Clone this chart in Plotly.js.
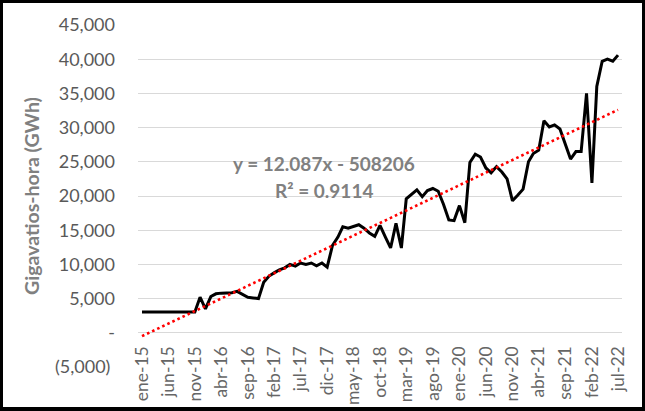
<!DOCTYPE html>
<html><head><meta charset="utf-8">
<script src="https://cdn.plot.ly/plotly-3.0.1.min.js"></script>
<style>
html,body{margin:0;padding:0;background:#fff}
#wrap{position:relative;width:645px;height:411px}
#chart{position:absolute;left:0;top:0;width:645px;height:411px}
#frame{position:absolute;left:0;top:0;width:645px;height:411px;box-sizing:border-box;border:3px solid #000;border-bottom-width:4px;pointer-events:none}
</style>
</head><body><div id="wrap"><div id="chart"></div><div id="frame"></div></div>
<script>
// Monthly series starting ene-2015
const startYear = 2015, startMonth = 1;
const generationGWh = [
  3050,3050,3050,3050,3050,3050,3050,3050,3050,3050,3050,
  5200,3500,5300,5700,5800,5800,5850,6050,5600,5200,
  5100,5000,7400,8300,8800,9200,9500,10000,9750,10200,
  10000,10200,9800,10200,9600,12800,14000,15500,15300,15500,
  15800,15300,14600,14100,15700,14000,12400,16000,12400,19600,
  20200,20900,19900,20800,21100,20700,18800,16500,16400,18600,
  16100,24900,26100,25700,24100,23400,24300,23500,22500,19300,
  20100,21000,25000,26200,26700,31000,30100,30400,29800,27500,
  25400,26500,26500,35000,21900,36000,39700,40000,39700,40600
];
const xTickDates = ['2015-01-01','2015-06-01','2015-11-01','2016-04-01','2016-09-01','2017-02-01','2017-07-01','2017-12-01','2018-05-01','2018-10-01','2019-03-01','2019-08-01','2020-01-01','2020-06-01','2020-11-01','2021-04-01','2021-09-01','2022-02-01','2022-07-01'];
const xTickLabels = ['ene-15','jun-15','nov-15','abr-16','sep-16','feb-17','jul-17','dic-17','may-18','oct-18','mar-19','ago-19','ene-20','jun-20','nov-20','abr-21','sep-21','feb-22','jul-22'];
const yTickValues = [-5000,0,5000,10000,15000,20000,25000,30000,35000,40000,45000];
const yTickLabels = ['(5,000)\u00a0','-','5,000','10,000','15,000','20,000','25,000','30,000','35,000','40,000','45,000'];
const trendSlope = 12.087, trendIntercept = -508206;
const rSquared = 0.9114;
const yAxisTitle = 'Gigavatios-hora (GWh)';

function pad(n){return (n<10?'0':'')+n;}
const months = generationGWh.map((_, i) => {
  const m0 = startMonth - 1 + i;
  const y = startYear + Math.floor(m0 / 12);
  const m = (m0 % 12) + 1;
  return y + '-' + pad(m) + '-01';
});
function excelSerial(d){
  const p = d.split('-').map(Number);
  return (Date.UTC(p[0], p[1]-1, p[2]) - Date.UTC(1899, 11, 30)) / 864e5;
}
const trendX = [months[0], months[months.length-1]];
const trendY = trendX.map(d => trendSlope * excelSerial(d) + trendIntercept);

const FONT = 'Lato, "Open Sans", sans-serif';
const data = [
  {x: months, y: generationGWh, type: 'scatter', mode: 'lines',
   line: {color: '#000000', width: 3}, hoverinfo: 'skip'},
  {x: trendX, y: trendY, type: 'scatter', mode: 'lines',
   line: {color: '#ff0000', width: 2.6, dash: '2.6px,3px'}, hoverinfo: 'skip'}
];
const layout = {
  width: 645, height: 411,
  margin: {l: 138, r: 23, t: 25, b: 44},
  paper_bgcolor: '#ffffff', plot_bgcolor: '#ffffff',
  showlegend: false,
  font: {family: FONT, color: '#595959'},
  xaxis: {
    type: 'date', range: ['2014-12-09', '2022-07-24'],
    anchor: 'free', position: 0.1,
    tickmode: 'array', tickvals: xTickDates, ticktext: xTickLabels,
    tickangle: -90, tickfont: {family: FONT, size: 17.5, color: '#666666'},
    ticklabelstandoff: 9,
    showgrid: false, zeroline: false, showline: false, ticks: ''
  },
  yaxis: {
    range: [-5000, 45000], domain: [0, 1],
    tickmode: 'array', tickvals: yTickValues, ticktext: yTickLabels,
    tickfont: {family: FONT, size: 18, color: '#595959'},
    showgrid: true, gridcolor: '#d9d9d9', gridwidth: 1,
    zeroline: false, showline: false, ticks: '',
    ticklabelstandoff: 22,
    title: {text: yAxisTitle, font: {family: FONT, size: 19.5, color: '#808080', weight: 'bold'}, standoff: 10}
  },
  annotations: [
    {xref: 'paper', yref: 'paper', x: 0.384, y: 0.596, xanchor: 'center', yanchor: 'middle',
     showarrow: false, text: 'y = ' + trendSlope.toFixed(3) + 'x - ' + Math.abs(trendIntercept),
     font: {family: FONT, size: 19, color: '#808080', weight: 'bold'}},
    {xref: 'paper', yref: 'paper', x: 0.384, y: 0.515, xanchor: 'center', yanchor: 'middle',
     showarrow: false, text: 'R² = ' + rSquared.toFixed(4),
     font: {family: FONT, size: 19, color: '#808080', weight: 'bold'}}
  ]
};
Plotly.newPlot('chart', data, layout, {displayModeBar: false, staticPlot: true});
</script>
</body></html>
